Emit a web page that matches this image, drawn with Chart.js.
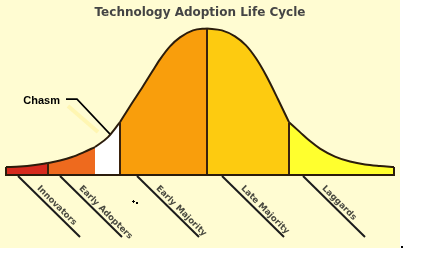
<!DOCTYPE html>
<html><head><meta charset="utf-8">
<script src="https://cdn.jsdelivr.net/npm/chart.js@4.4.0/dist/chart.umd.min.js"></script>
<style>
html,body{margin:0;padding:0;background:#fff;}
#wrap{position:absolute;left:0;top:0;width:400px;height:248px;background:#FFFCD2;}
#dot{position:absolute;left:401px;top:246px;width:2px;height:2px;background:#000;}
</style></head><body>
<div id="wrap"><canvas id="c" width="400" height="248"></canvas></div>
<div id="dot"></div>
<script>
const chartTitle = 'Technology Adoption Life Cycle';
// curve: x position along the axis, height of the curve above the base line
const curveX = [6,20,35,48,60,72,84,95,108,120,130,143,153,160,170,180,193,207,222,235,246,256,266,278,289,300,310,320,335,350,365,380,394];
const curveH = [8,8.5,10,12,14.5,18,23,28,38,53,69,89,105,116,129,138,145,147,145,139,130,117,100,76,53,43,34,26.5,18.5,13.5,10.5,9,8];
// segments of the curve
const segmentNames = ['Innovators','Early Adopters','Chasm','Early Majority','Late Majority','Laggards'];
const segmentBounds = [6,48,95,120,207,289,394];
const segmentColors = ['#D62A1E','#EE6A1E','#FFFFFF','#F99E0C','#FDCB10','#FFFF2E'];
// divider lines drawn between segments
const dividerX = [48,120,207,289];
// category labels under the axis with their tick positions
const categoryLabels = ['Innovators','Early Adopters','Early Majority','Late Majority','Laggards'];
const labelTickX = [18,60,137,222,303];
// chasm callout
const chasmLabel = 'Chasm';
const chasmTarget = [110,41];

const xMin = curveX[0], xMax = curveX[curveX.length-1];
const hAt = v => curveH[curveX.indexOf(v)];
const pts = curveX.map((x,i)=>({x:x, y:curveH[i]}));

const datasets = [];
segmentColors.forEach((col,i)=>{
  datasets.push({
    label: segmentNames[i],
    data: pts.filter(p=>p.x>=segmentBounds[i] && p.x<=segmentBounds[i+1]),
    backgroundColor: col, borderColor:'#2b1c0c', borderWidth:2,
    fill:'origin', pointRadius:0, cubicInterpolationMode:'monotone',
    order:3, clip:false
  });
});
dividerX.forEach(v=>{
  datasets.push({label:'div', data:[{x:v,y:0},{x:v,y:hAt(v)}], borderColor:'#3a220c', borderWidth:2,
    fill:false, pointRadius:0, order:2, clip:false});
});
datasets.push({label:'edges', data:[{x:xMin,y:hAt(xMin)},{x:xMin,y:0},{x:xMax,y:0},{x:xMax,y:hAt(xMax)}],
  borderColor:'#2b1c0c', borderWidth:2, fill:false, pointRadius:0, order:1, clip:false});

const annot = {
  id:'annot',
  afterDatasetsDraw(chart){
    const ctx = chart.ctx, x = chart.scales.x, y = chart.scales.y;
    const base = y.getPixelForValue(0);
    ctx.save();
    labelTickX.forEach((v,i)=>{
      const px = x.getPixelForValue(v);
      ctx.strokeStyle='#1c1c1c'; ctx.lineWidth=2;
      ctx.beginPath(); ctx.moveTo(px, base+1); ctx.lineTo(px+62, base+62); ctx.stroke();
      ctx.save(); ctx.translate(px, base); ctx.rotate(Math.PI/4);
      ctx.font='bold 8.6px "DejaVu Sans"'; ctx.fillStyle='#4a4a40';
      ctx.textBaseline='alphabetic'; ctx.textAlign='left';
      ctx.fillText(categoryLabels[i], 23, -3.5);
      ctx.restore();
    });
    const tx = x.getPixelForValue(chasmTarget[0]), ty = y.getPixelForValue(chasmTarget[1]);
    const ex = tx-33, ey = ty-35;
    ctx.strokeStyle='rgba(255,236,120,0.35)'; ctx.lineWidth=4;
    ctx.beginPath(); ctx.moveTo(ex-9, ey+7); ctx.lineTo(tx-12, ty-2); ctx.stroke();
    ctx.strokeStyle='#000'; ctx.lineWidth=1.6;
    ctx.beginPath(); ctx.moveTo(tx, ty); ctx.lineTo(ex, ey); ctx.lineTo(ex-11, ey); ctx.stroke();
    ctx.font='bold 11px "Liberation Sans"'; ctx.fillStyle='#000';
    ctx.textAlign='right'; ctx.textBaseline='alphabetic';
    ctx.fillText(chasmLabel, ex-17, ey+5);
    ctx.fillStyle='#000';
    ctx.fillRect(132, 201, 3, 1); ctx.fillRect(133, 200, 1, 3); ctx.fillRect(136, 202, 2, 2);
    ctx.restore();
  }
};

new Chart(document.getElementById('c'), {
  type:'line',
  data:{datasets:datasets},
  options:{
    responsive:false, animation:false,
    layout:{padding:{left:6,right:6,top:0,bottom:73}},
    scales:{
      x:{type:'linear', min:xMin, max:xMax, display:false},
      y:{min:0, max:147, display:false}
    },
    plugins:{
      legend:{display:false}, tooltip:{enabled:false},
      title:{display:true, text:chartTitle, color:'#444444',
        font:{family:'DejaVu Sans', size:12, weight:'bold'}, padding:{top:6,bottom:8}}
    }
  },
  plugins:[annot]
});
</script>
</body></html>
